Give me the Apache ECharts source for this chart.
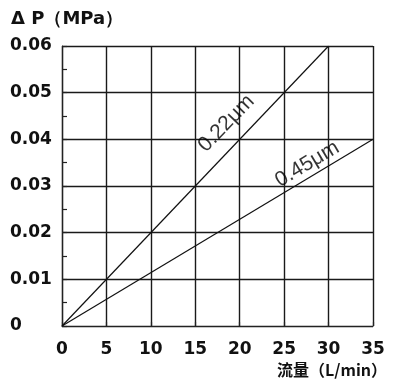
<!DOCTYPE html>
<html><head><meta charset="utf-8">
<script src="https://cdn.jsdelivr.net/npm/echarts@6/dist/echarts.min.js"></script>
<style>html,body{margin:0;padding:0;background:#fff}#c{width:393px;height:383px}</style>
</head><body><div id="c"></div>
<script>
const xTicks = [0, 5, 10, 15, 20, 25, 30, 35];
const yTicks = [0, 0.01, 0.02, 0.03, 0.04, 0.05, 0.06];
const line022 = [[0, 0], [30, 0.06]];
const line045 = [[0, 0], [35, 0.04]];
const labels = [
  { name: '0.22μm', value: [18.5, 0.0434], rotate: 46 },
  { name: '0.45μm', value: [27.6, 0.0347], rotate: 31 }
];
const yTitle = 'Δ P（MPa）';
const xTitle = '流量（L/min）';

const chart = echarts.init(document.getElementById('c'), null, { renderer: 'canvas' });
const numFont = { fontFamily: 'DejaVu Sans', fontWeight: 'bold', fontSize: 17, color: '#111' };
chart.setOption({
  animation: false,
  backgroundColor: '#fff',
  title: [
    { text: yTitle, left: 6, top: 5, textStyle: { fontFamily: 'DejaVu Sans', fontWeight: 'bold', fontSize: 18, color: '#111' } },
    { text: xTitle, right: 1, top: 357, textStyle: { fontFamily: 'Noto Sans CJK SC', fontWeight: 'bold', fontSize: 16, color: '#111' } }
  ],
  grid: { left: 62, right: 20, top: 46, bottom: 57 },
  xAxis: {
    type: 'value', min: xTicks[0], max: xTicks[xTicks.length - 1], interval: 5,
    offset: 4,
    axisLine: { show: true, lineStyle: { color: '#222', width: 1.2 } },
    axisTick: { show: true, inside: true, length: 4, lineStyle: { color: '#222', width: 1.2 } },
    axisLabel: Object.assign({ margin: 11 }, numFont),
    splitLine: { show: true, lineStyle: { color: '#1a1a1a', width: 1.4 } }
  },
  yAxis: {
    type: 'value', min: yTicks[0], max: yTicks[yTicks.length - 1], interval: 0.01,
    offset: 8,
    axisLine: { show: true, lineStyle: { color: '#222', width: 1.2 } },
    axisTick: { show: true, inside: true, length: 5, lineStyle: { color: '#222', width: 1.2 } },
    minorTick: { show: true, splitNumber: 2, length: 5, lineStyle: { color: '#222', width: 1.2 } },
    axisLabel: Object.assign({ margin: 44, align: 'left', formatter: v => (v === 0 ? '0' : v.toFixed(2)) }, numFont),
    splitLine: { show: true, lineStyle: { color: '#1a1a1a', width: 1.4 } }
  },
  series: [
    { type: 'line', data: line022, symbol: 'none', lineStyle: { color: '#111', width: 1.2 } },
    { type: 'line', data: line045, symbol: 'none', lineStyle: { color: '#111', width: 1.2 } },
    {
      type: 'scatter', symbolSize: 0,
      data: labels.map(l => ({
        value: l.value, name: l.name,
        label: { show: true, position: 'inside', formatter: l.name, rotate: l.rotate,
          fontFamily: 'Liberation Sans', fontSize: 21, color: '#000' }
      }))
    }
  ]
});
</script></body></html>
